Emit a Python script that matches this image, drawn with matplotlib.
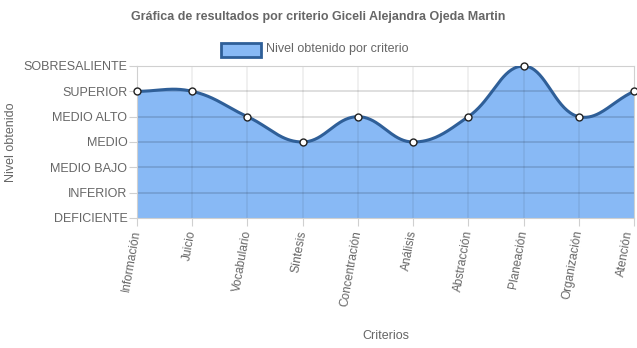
import numpy as np
import matplotlib.pyplot as plt

# Datos
criterios = ['Información', 'Juicio', 'Vocabulario', 'Síntesis', 'Concentración',
             'Análisis', 'Abstracción', 'Planeación', 'Organización', 'Atención']
niveles = ['DEFICIENTE', 'INFERIOR', 'MEDIO BAJO', 'MEDIO', 'MEDIO ALTO',
           'SUPERIOR', 'SOBRESALIENTE']
valores = [5, 5, 4, 3, 4, 3, 4, 6, 4, 5]

plt.rcParams['font.family'] = ['Liberation Sans', 'DejaVu Sans']
gris = '#666666'
linea = '#2f5f98'
relleno = '#88b9f5'

fig = plt.figure(figsize=(6.37, 3.48), dpi=100)
W, H = 637, 348
x0, x1, y0, y1 = 137, 634, 66, 218
ax = fig.add_axes([x0 / W, 1 - y1 / H, (x1 - x0) / W, (y1 - y0) / H])

# curva tipo Chart.js (tension 0.4) calculada en pixeles
sx = (x1 - x0) / (len(criterios) - 1)
sy = (y1 - y0) / (len(niveles) - 1)
px = np.arange(len(valores)) * sx
py = np.array(valores, dtype=float) * sy
t = 0.4
cp_prev, cp_next = [], []
n = len(px)
for i in range(n):
    p0 = np.array([px[max(i - 1, 0)], py[max(i - 1, 0)]])
    p1 = np.array([px[i], py[i]])
    p2 = np.array([px[min(i + 1, n - 1)], py[min(i + 1, n - 1)]])
    d01 = np.hypot(*(p1 - p0))
    d12 = np.hypot(*(p2 - p1))
    s01 = d01 / (d01 + d12) if d01 + d12 else 0
    s12 = d12 / (d01 + d12) if d01 + d12 else 0
    cp_prev.append(p1 - t * s01 * (p2 - p0))
    cp_next.append(p1 + t * s12 * (p2 - p0))

cx, cy = [], []
u = np.linspace(0, 1, 40)
for i in range(n - 1):
    a = np.array([px[i], py[i]])
    b = cp_next[i]
    c = cp_prev[i + 1]
    d = np.array([px[i + 1], py[i + 1]])
    pts = ((1 - u) ** 3)[:, None] * a + (3 * (1 - u) ** 2 * u)[:, None] * b \
        + (3 * (1 - u) * u ** 2)[:, None] * c + (u ** 3)[:, None] * d
    cx.extend(pts[:, 0] / sx)
    cy.extend(np.clip(pts[:, 1] / sy, 0, len(niveles) - 1))

ax.fill_between(cx, 0, cy, color=relleno, lw=0, zorder=1)

# rejilla encima del relleno, semitransparente
for k in range(1, len(niveles)):
    ax.axhline(k, color=(0, 0, 0, 0.13), lw=1.4, zorder=2)
for k in range(1, n - 1):
    ax.axvline(k, color=(0, 0, 0, 0.07), lw=1.2, zorder=2)

ax.plot(cx, cy, color=linea, lw=2.2, zorder=3)
ax.plot(range(n), valores, 'o', ms=5, mfc='white', mec='#222222', mew=1, zorder=4,
        clip_on=False)

ax.set_xlim(0, n - 1)
ax.set_ylim(0, len(niveles) - 1)
ax.set_xticks(range(n))
# la ultima etiqueta se dibuja aparte, un poco corrida, para que no se corte
etiquetas = criterios[:-1] + ['']
ax.set_xticklabels(etiquetas, rotation=80, ha='right', va='center',
                   rotation_mode='anchor', fontsize=8.6, color=gris)
ax.annotate(criterios[-1], xy=(n - 1, 0), xycoords=('data', 'axes fraction'),
            xytext=(-3.5, -9), textcoords='offset points', rotation=80,
            ha='right', va='center', rotation_mode='anchor', fontsize=8.6,
            color=gris, annotation_clip=False)
ax.set_yticks(range(len(niveles)))
ax.set_yticklabels(niveles, fontsize=9, color=gris)
ax.tick_params(length=6, color='#d0d0d0', pad=1)
ax.tick_params(axis='x', pad=3)
for s in ax.spines.values():
    s.set_color('#d0d0d0')

fig.text(11 / W, 1 - 142 / H, 'Nivel obtenido', rotation=90, ha='center', va='center',
         fontsize=9, color=gris)
fig.text((x0 + x1) / 2 / W, 1 - 336 / H, 'Criterios', ha='center', va='center',
         fontsize=9, color=gris)
fig.text(0.5, 1 - 17 / H, 'Gráfica de resultados por criterio Giceli Alejandra Ojeda Martin',
         ha='center', va='center', fontsize=9, fontweight='bold', color=gris)

# leyenda
lx, ly = 221 / W, 1 - 57 / H
fig.patches.append(plt.Rectangle((lx, ly), 40 / W, 14 / H, transform=fig.transFigure,
                                 facecolor=relleno, edgecolor=linea, lw=2))
fig.text(266 / W, 1 - 49 / H, 'Nivel obtenido por criterio', ha='left', va='center',
         fontsize=9, color=gris)

fig.savefig('out.png', dpi=100)
